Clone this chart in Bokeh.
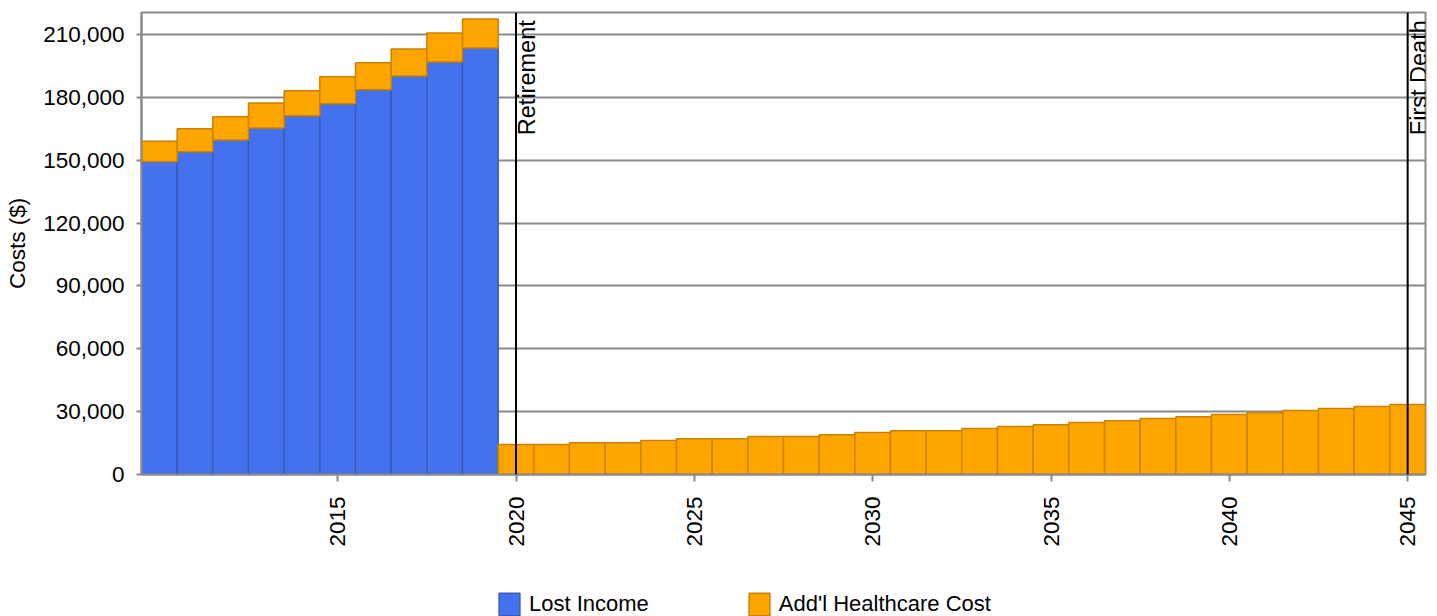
import math

from bokeh.plotting import figure
from bokeh.layouts import column
from bokeh.models import (ColumnDataSource, FixedTicker, NumeralTickFormatter, Span,
                          Label, Legend, LegendItem, Range1d)
from bokeh.embed import file_html
from bokeh.resources import INLINE

# Working years (income lost) and the years after retirement
pre_years = [2010, 2011, 2012, 2013, 2014, 2015, 2016, 2017, 2018, 2019]
post_years = [2020, 2021, 2022, 2023, 2024, 2025, 2026, 2027, 2028, 2029,
              2030, 2031, 2032, 2033, 2034, 2035, 2036, 2037, 2038, 2039,
              2040, 2041, 2042, 2043, 2044, 2045]

lost_income = [149400, 154000, 159700, 165400, 171200, 176900, 183600, 190200, 196900, 203600]
health_pre = [9700, 11000, 11000, 11900, 11900, 12900, 12900, 12900, 13800, 13800]
health_post = [14300, 14300, 15200, 15200, 16200, 17100, 17100, 18100, 18100, 19000,
               20000, 20900, 20900, 21900, 22900, 23800, 24800, 25700, 26700, 27600,
               28600, 29500, 30500, 31500, 32400, 33400]

event_names = ["Retirement", "First Death"]
event_years = [2020, 2045]

y_ticks = [0, 30000, 60000, 90000, 120000, 150000, 180000, 210000]
x_ticks = [2015, 2020, 2025, 2030, 2035, 2040, 2045]

FONT = "Liberation Sans"
GRID = "#8a8a8a"
BLUE, BLUE_EDGE = "#4472EE", "#3b5cb3"
ORANGE, ORANGE_EDGE = "#FFA500", "#C98300"

income_src = ColumnDataSource(dict(year=pre_years, income=lost_income))
health_src = ColumnDataSource(dict(
    year=pre_years + post_years,
    base=lost_income + [0] * len(post_years),
    top=[a + b for a, b in zip(lost_income, health_pre)] + health_post,
))

p = figure(width=1437, height=580, output_backend="svg", toolbar_location=None,
           x_range=Range1d(2009.5, 2045.5), y_range=Range1d(0, 220500),
           min_border_left=141, min_border_right=12, min_border_top=12,
           min_border_bottom=106)

p.background_fill_color = "white"
p.border_fill_color = "white"
p.outline_line_color = GRID
p.outline_line_width = 2

p.vbar(x="year", top="income", bottom=0, width=1.0, source=income_src,
       fill_color=BLUE, line_color=BLUE_EDGE, line_width=1.5)
p.vbar(x="year", top="top", bottom="base", width=1.0, source=health_src,
       fill_color=ORANGE, line_color=ORANGE_EDGE, line_width=1.5)

# Axes
p.yaxis.ticker = FixedTicker(ticks=y_ticks)
p.yaxis.formatter = NumeralTickFormatter(format="0,0")
p.yaxis.axis_label = "Costs ($)"
p.xaxis.ticker = FixedTicker(ticks=x_ticks)
p.xaxis.major_label_orientation = math.pi / 2

for ax in (p.xaxis[0], p.yaxis[0]):
    ax.axis_line_color = GRID
    ax.axis_line_width = 2
    ax.major_tick_line_color = GRID
    ax.major_tick_line_width = 2
    ax.major_tick_in = 0
    ax.minor_tick_line_color = None
    ax.major_label_text_font = FONT
    ax.major_label_text_font_size = "22.5px"
    ax.major_label_text_color = "black"
    ax.axis_label_text_font = FONT
    ax.axis_label_text_font_size = "22.5px"
    ax.axis_label_text_font_style = "normal"
    ax.axis_label_text_color = "black"

p.yaxis.major_tick_out = 5
p.yaxis.major_label_standoff = 12
p.yaxis.axis_label_standoff = 10
p.xaxis.major_tick_out = 7
p.xaxis.major_label_standoff = 15

p.xgrid.grid_line_color = None
p.ygrid.ticker = FixedTicker(ticks=y_ticks)
p.ygrid.grid_line_color = GRID
p.ygrid.grid_line_width = 2

# Event markers
for name, yr in zip(event_names, event_years):
    p.add_layout(Span(location=yr, dimension="height", line_color="black", line_width=2))
    p.add_layout(Label(x=yr, y=216800, text=name, angle=math.pi / 2,
                       text_align="right", text_baseline="top", x_offset=-2,
                       text_font=FONT, text_font_size="23.5px", text_color="black"))

# Legend strip underneath the chart (its frame lines up with the chart's frame)
leg = figure(width=1437, height=36, output_backend="svg", toolbar_location=None,
             x_axis_location=None, y_axis_location=None, min_border=0,
             x_range=Range1d(0, 1), y_range=Range1d(0, 1))
leg.outline_line_color = None
leg.grid.visible = False
swatch = ColumnDataSource(dict(x=[-5], top=[0]))
r_income = leg.vbar(x="x", top="top", width=1, source=swatch,
                    fill_color=BLUE, line_color=BLUE_EDGE, line_width=1.5)
r_health = leg.vbar(x="x", top="top", width=1, source=swatch,
                    fill_color=ORANGE, line_color=ORANGE_EDGE, line_width=1.5)
legend = Legend(items=[LegendItem(label="Lost Income", renderers=[r_income]),
                       LegendItem(label="Add'l Healthcare Cost", renderers=[r_health])],
                location=(355, -2), orientation="horizontal",
                glyph_width=26, glyph_height=28, label_standoff=7, spacing=97,
                padding=0, margin=0, border_line_alpha=0, background_fill_alpha=0,
                label_text_font=FONT, label_text_font_size="22px", label_text_color="black")
leg.add_layout(legend, "center")

layout = column(p, leg, spacing=0)
open("out.html", "w").write(file_html(layout, INLINE))
